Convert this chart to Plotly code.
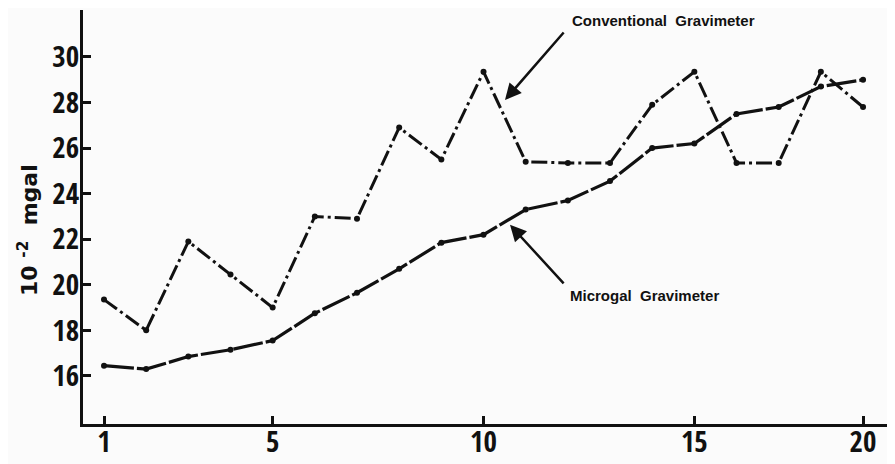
import plotly.graph_objects as go

# station positions (the plotted sequence) and axis tick labels
stations = list(range(1, 20))
tick_positions = [1, 5, 10, 15, 19]
tick_labels = ["1", "5", "10", "15", "20"]
y_ticks = [16, 18, 20, 22, 24, 26, 28, 30]

conventional = [19.35, 18.0, 21.9, 20.45, 19.0, 23.0, 22.9, 26.9, 25.5, 29.35,
                25.4, 25.35, 25.35, 27.9, 29.35, 25.35, 25.35, 29.35, 27.8]
microgal = [16.45, 16.3, 16.85, 17.15, 17.55, 18.75, 19.65, 20.7, 21.85, 22.2,
            23.3, 23.7, 24.55, 26.0, 26.2, 27.5, 27.8, 28.7, 29.0]

INK = "#111111"
NARROW = "Open Sans Condensed, Roboto Condensed, sans-serif"
BOLD = "Liberation Sans, Arial, sans-serif"
TITLE = "DejaVu Sans, sans-serif"

fig = go.Figure()
fig.add_trace(go.Scatter(
    x=stations, y=conventional, mode="lines+markers", name="Conventional Gravimeter",
    line=dict(color=INK, width=3, dash="16px,4px,3px,4px"),
    marker=dict(color=INK, size=6),
))
fig.add_trace(go.Scatter(
    x=stations, y=microgal, mode="lines+markers", name="Microgal Gravimeter",
    line=dict(color=INK, width=3.2, dash="30px,3px"),
    marker=dict(color=INK, size=6),
))

fig.update_layout(
    width=887, height=456,
    margin=dict(l=75, r=0, t=2, b=40),
    paper_bgcolor="#fbfbfb", plot_bgcolor="#fbfbfb",
    showlegend=False,
    xaxis=dict(
        range=[0.502, 19.758], tickvals=tick_positions, ticktext=tick_labels,
        automargin=False, ticklabelstandoff=-10,
        showgrid=False, zeroline=False, showline=True, linecolor=INK, linewidth=3,
        ticks="inside", ticklen=8, tickwidth=3, tickcolor=INK,
        tickfont=dict(family=NARROW, size=29, color=INK, weight="bold"),
    ),
    yaxis=dict(
        range=[13.89, 32.06], tickvals=y_ticks, automargin=False,
        ticklabelstandoff=-5,
        showgrid=False, zeroline=False, showline=True, linecolor=INK, linewidth=3,
        ticks="inside", ticklen=8, tickwidth=3, tickcolor=INK,
        tickfont=dict(family=NARROW, size=29, color=INK, weight="bold"),
    ),
    annotations=[
        dict(x=10.509, y=28.11, xref="x", yref="y", text="", showarrow=True,
             ax=60, ay=-69, arrowhead=2, arrowsize=1.3, arrowwidth=2.5,
             arrowcolor=INK, standoff=0),
        dict(x=10.628, y=22.63, xref="x", yref="y", text="", showarrow=True,
             ax=55, ay=60, arrowhead=2, arrowsize=1.3, arrowwidth=2.5,
             arrowcolor=INK, standoff=0),
        dict(x=12.05, y=31.58, xref="x", yref="y", text="Conventional  Gravimeter",
             showarrow=False, xanchor="left", yanchor="middle",
             font=dict(family=BOLD, size=15, color=INK, weight="bold")),
        dict(x=12.0, y=19.55, xref="x", yref="y", text="Microgal  Gravimeter",
             showarrow=False, xanchor="left", yanchor="middle",
             font=dict(family=BOLD, size=15, color=INK, weight="bold")),
        dict(x=-0.0677, y=0.4686, xref="paper", yref="paper",
             text="10 <sup>-2</sup>  mgal", textangle=-90, showarrow=False,
             xanchor="center", yanchor="middle",
             font=dict(family=TITLE, size=22, color=INK, weight="bold")),
    ],
)

fig.write_html("out.html")
